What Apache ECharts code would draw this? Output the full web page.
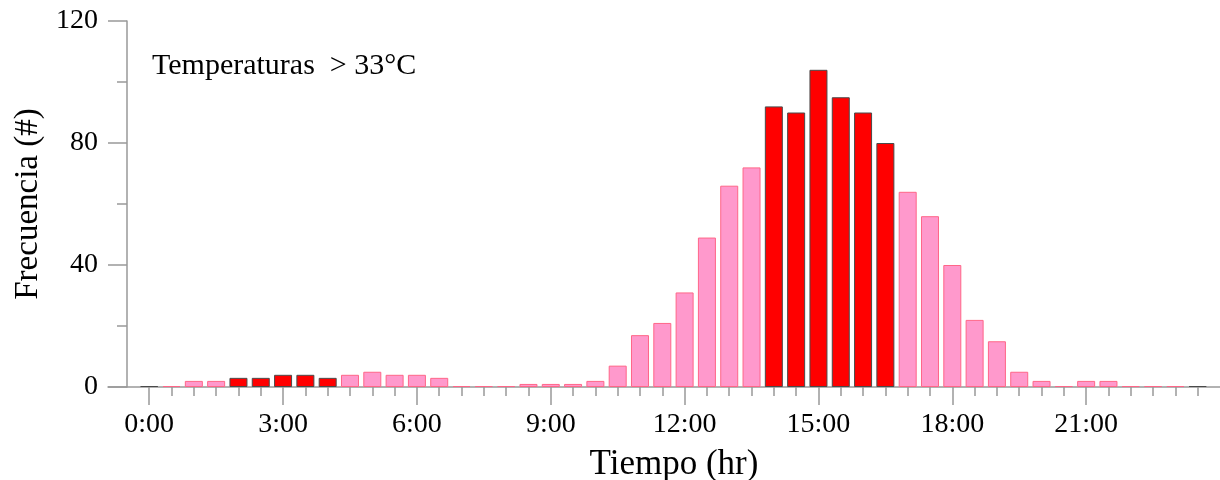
<!DOCTYPE html>
<html>
<head>
<meta charset="utf-8">
<script src="https://cdn.jsdelivr.net/npm/echarts@6/dist/echarts.min.js"></script>
<style>html,body{margin:0;padding:0;background:#fff}#c{width:1220px;height:480px}</style>
</head>
<body>
<div id="c"></div>
<script>
// Half-hour bins, hours from 0:00 to 23:30
const hours = [0,0.5,1,1.5,2,2.5,3,3.5,4,4.5,5,5.5,6,6.5,7,7.5,8,8.5,9,9.5,10,10.5,11,11.5,12,12.5,13,13.5,14,14.5,15,15.5,16,16.5,17,17.5,18,18.5,19,19.5,20,20.5,21,21.5,22,22.5,23,23.5];
const frecuencia = [0,0,2,2,3,3,4,4,3,4,5,4,4,3,0,0,0,1,1,1,2,7,17,21,31,49,66,72,92,90,104,95,90,80,64,56,40,22,15,5,2,0,2,2,0,0,0,0];
// 1 = highlighted (red) bin, 0 = regular (pink) bin
const destacado = [1,0,0,0,1,1,1,1,1,0,0,0,0,0,0,0,0,0,0,0,0,0,0,0,0,0,0,0,1,1,1,1,1,1,0,0,0,0,0,0,0,0,0,0,0,0,0,1];
const majorTicks = [0,3,6,9,12,15,18,21];
const halfHourTicks = hours;

const FONT = '"Liberation Serif", "Times New Roman", serif';
const styles = {
  0: {color:'#ff99cc', borderColor:'#ff6688', borderWidth:1},
  1: {color:'#ff0000', borderColor:'#4a4a4a', borderWidth:1}
};
const data = hours.map((h,i)=>({value:[h, frecuencia[i]], itemStyle: styles[destacado[i]]}));

const chart = echarts.init(document.getElementById('c'), null, {renderer:'canvas'});
chart.setOption({
  animation:false,
  backgroundColor:'#fff',
  title:{text:'Temperaturas  > 33°C', left:147, top:46,
    textStyle:{fontFamily:FONT, fontSize:30, fontWeight:'normal', color:'#000'}},
  grid:{left:108, right:0, top:21, bottom:93, containLabel:false, outerBoundsMode:'none'},
  xAxis:[{
    type:'value', min:-0.924, max:24, position:'bottom',
    axisLine:{show:true, onZero:false, lineStyle:{color:'#999', width:1.5}},
    axisTick:{show:true, length:18, customValues:majorTicks, lineStyle:{color:'#999', width:1.5}},
    axisLabel:{show:true, customValues:majorTicks, margin:24, fontFamily:FONT, fontSize:28, color:'#000',
      formatter:v=>Math.round(v)+':00'},
    splitLine:{show:false},
    name:'Tiempo (hr)', nameLocation:'middle', nameGap:60,
    nameTextStyle:{fontFamily:FONT, fontSize:35, color:'#000', padding:[0,0,0,20]}
  },{
    type:'value', min:-0.924, max:24, position:'bottom',
    axisLine:{show:false, onZero:false},
    axisTick:{show:true, length:9, customValues:halfHourTicks, lineStyle:{color:'#999', width:1.5}},
    axisLabel:{show:false},
    splitLine:{show:false}
  }],
  yAxis:{
    type:'value', min:0, max:120, interval:40, offset:-19,
    axisLine:{show:true, onZero:false, lineStyle:{color:'#999', width:1.5}},
    axisTick:{show:true, length:19, lineStyle:{color:'#999', width:1.5}},
    minorTick:{show:true, splitNumber:2, length:10, lineStyle:{color:'#999', width:1.5}},
    axisLabel:{margin:29, fontFamily:FONT, fontSize:28, color:'#000'},
    splitLine:{show:false},
    name:'Frecuencia (#)', nameLocation:'middle', nameGap:81,
    nameTextStyle:{fontFamily:FONT, fontSize:33, color:'#000'}
  },
  series:[{
    type:'bar', xAxisIndex:0, data:data, barWidth:18, barMinHeight:1
  }]
});
</script>
</body>
</html>
